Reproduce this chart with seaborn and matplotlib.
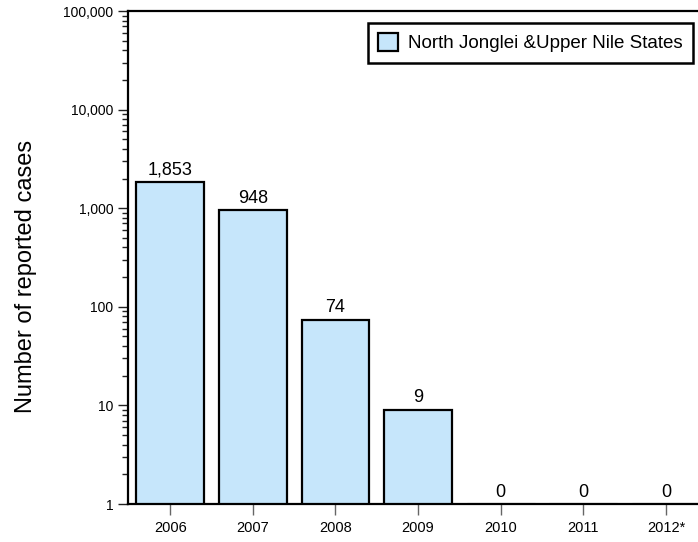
import matplotlib
matplotlib.use("Agg")
import matplotlib.pyplot as plt
import matplotlib.ticker as mticker
import seaborn as sns
import pandas as pd

# Reported cases per year
years = ["2006", "2007", "2008", "2009", "2010", "2011", "2012*"]
cases = [1853, 948, 74, 9, 0, 0, 0]
region = "North Jonglei &Upper Nile States"
y_ticks = [1, 10, 100, 1000, 10000, 100000]

bar_color = "#C6E6FB"
y_floor, y_top = 1, 100000

sns.set_style("ticks")
plt.rcParams["font.family"] = ["Liberation Sans", "DejaVu Sans"]
plt.rcParams["text.color"] = "black"
plt.rcParams["axes.labelcolor"] = "black"

df = pd.DataFrame({"year": years, "cases": cases})

fig = plt.figure(figsize=(6.98, 5.42), dpi=100)
ax = fig.add_axes([0.1834, 0.0701, 0.831, 0.9096])

sns.barplot(data=df, x="year", y="cases", color=bar_color, saturation=1,
            edgecolor="black", linewidth=1.6, width=0.82, label=region,
            errorbar=None, ax=ax)

ax.set_yscale("log")
ax.set_ylim(y_floor, y_top)
ax.set_xlim(-0.51, len(years) - 0.49)

# zero counts sit flat on the axis floor
for patch, v in zip(ax.patches, cases):
    if v == 0:
        patch.set_y(y_floor)
        patch.set_linewidth(2.2)

# value labels above each bar
for patch, v in zip(ax.patches, cases):
    xc = patch.get_x() + patch.get_width() / 2
    ax.annotate(f"{v:,}", (xc, max(v, y_floor)), xytext=(0, 2.5),
                textcoords="offset points", ha="center", va="bottom",
                fontsize=13, color="black")

ax.yaxis.set_major_locator(mticker.FixedLocator(y_ticks))
ax.yaxis.set_minor_locator(mticker.LogLocator(base=10, subs=range(2, 10)))
ax.yaxis.set_major_formatter(mticker.FuncFormatter(lambda v, p: f"{v:,.0f}"))
ax.yaxis.set_minor_formatter(mticker.NullFormatter())

ax.tick_params(axis="y", which="major", direction="out", length=7.2, width=1,
               color="#222222", labelsize=10, pad=3.5, labelcolor="black")
ax.tick_params(axis="y", which="minor", direction="out", length=4.3, width=1,
               color="#222222")
ax.tick_params(axis="x", which="major", direction="out", length=8, width=1,
               color="#666666", labelsize=10.5, pad=4, labelcolor="black")

ax.set_xlabel("")
ax.set_ylabel("Number of reported cases", fontsize=17, color="black")
ax.yaxis.set_label_coords(-0.157, 0.462)

for side in ["left", "top", "bottom", "right"]:
    ax.spines[side].set_visible(True)
    ax.spines[side].set_color("black")
    ax.spines[side].set_linewidth(1.6)

leg = ax.legend(loc="upper right", bbox_to_anchor=(0.974, 0.976),
                fontsize=13.5, frameon=True, fancybox=False,
                handlelength=1.05, handleheight=1.05, handletextpad=0.55,
                borderpad=0.55, borderaxespad=0)
leg.get_frame().set_edgecolor("black")
leg.get_frame().set_linewidth(1.8)
leg.get_frame().set_alpha(1)
for t in leg.get_texts():
    t.set_color("black")

fig.savefig("out.png", dpi=100)
